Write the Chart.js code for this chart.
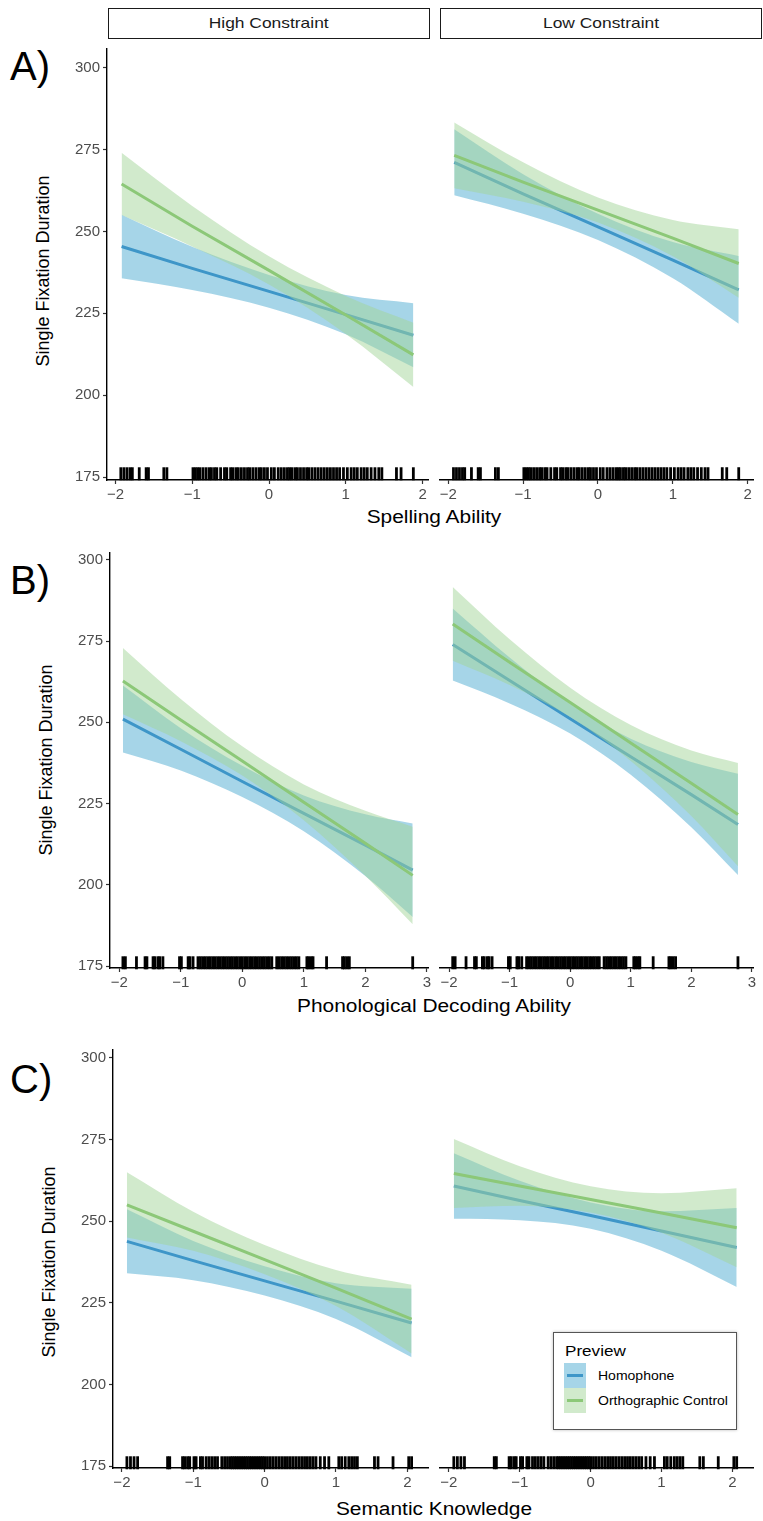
<!DOCTYPE html>
<html>
<head>
<meta charset="utf-8">
<script src="https://cdn.jsdelivr.net/npm/chart.js@4.4.1/dist/chart.umd.min.js"></script>
<style>
body { margin: 0; background: #fff; font-family: "Liberation Sans", Arial, sans-serif; }
#fig { position: relative; width: 763px; height: 1521px; overflow: hidden; }
.box { position: absolute; }
.strip { position: absolute; top: 8px; height: 31px; box-sizing: border-box; border: 1.5px solid #1a1a1a;
         font-size: 15px; line-height: 28px; text-align: center; color: #1a1a1a; }
.strip span { display: inline-block; transform: scaleX(1.16); }
.tag { position: absolute; left: 10px; font-family: "Liberation Sans Narrow", "Liberation Sans", sans-serif;
       font-size: 40px; line-height: 40px; color: #000; }
.ytitle { position: absolute; font-size: 18px; white-space: nowrap; color: #000;
          transform: translate(-50%, -50%) rotate(-90deg); }
.xtitle { position: absolute; font-size: 18px; white-space: nowrap; color: #000;
          transform: translate(-50%, -50%) scaleX(1.16); }
#legend { position: absolute; left: 553px; top: 1332px; width: 184px; height: 98px; box-sizing: border-box;
          border: 1.5px solid #555; box-shadow: 0 0 3px #bbb; background: #fff; }
#legend .ttl { font-size: 15px; margin: 9px 0 4px 11px; transform: scaleX(1.14); transform-origin: left; }
#legend .row { display: flex; align-items: center; height: 25px; margin-left: 10px; font-size: 12.5px; }
#legend .row span { display: inline-block; transform: scaleX(1.12); transform-origin: left; }
#legend .key { width: 22px; height: 25px; position: relative; margin-right: 12px; }
#legend .key i { position: absolute; left: 3px; right: 3px; top: 11px; height: 3px; }
</style>
</head>
<body>
<div id="fig">
  <div class="strip" style="left:108px;width:322px"><span>High Constraint</span></div>
  <div class="strip" style="left:440px;width:322px"><span>Low Constraint</span></div>
  <div class="tag" style="top:46px">A)</div>
  <div class="tag" style="top:560px">B)</div>
  <div class="tag" style="top:1059px">C)</div>
  <div class="ytitle" style="left:43px;top:271px">Single Fixation Duration</div>
  <div class="ytitle" style="left:46px;top:760px">Single Fixation Duration</div>
  <div class="ytitle" style="left:49px;top:1262px">Single Fixation Duration</div>
  <div class="xtitle" style="left:434px;top:517px">Spelling Ability</div>
  <div class="xtitle" style="left:434px;top:1006px">Phonological Decoding Ability</div>
  <div class="xtitle" style="left:434px;top:1509px">Semantic Knowledge</div>
  <div id="legend"></div>
</div>
<script>
// ticks
const yTicks = [175, 200, 225, 250, 275, 300];
const xTicksA = [-2, -1, 0, 1, 2];
const xTicksB = [-2, -1, 0, 1, 2, 3];
const xTicksC = [-2, -1, 0, 1, 2];

const seriesNames = ['Homophone', 'Orthographic Control'];

// A) spelling ability
const xA = [-1.92, -1, 0, 1, 1.88];
const homA_hi = [245.4, 238.7, 231.7, 224.6, 218.3];
const homA_hi_lo = [235.7, 232.1, 226.7, 218.6, 208.5];
const homA_hi_up = [255.1, 245.3, 236.7, 230.6, 228.1];
const orthA_hi = [264.5, 251.6, 238.1, 224.5, 212.3];
const orthA_hi_lo = [255.0, 245.4, 233.8, 218.7, 202.5];
const orthA_hi_up = [274.0, 257.8, 242.4, 230.3, 222.1];
const homA_lo = [270.5, 260.9, 250.9, 240.8, 231.8];
const homA_lo_lo = [260.5, 254.9, 246.9, 235.3, 221.5];
const homA_lo_up = [280.5, 266.9, 254.9, 246.3, 242.1];
const orthA_lo = [272.6, 264.5, 256.0, 247.5, 239.8];
const orthA_lo_lo = [262.6, 258.5, 252.2, 242.0, 229.4];
const orthA_lo_up = [282.6, 270.5, 259.8, 253.0, 250.2];
const rugA = [-1.93, -1.89, -1.85, -1.81, -1.78, -1.69, -1.6, -1.57, -1.37, -1.33, -0.99, -0.96, -0.93, -0.9,
  -0.86, -0.82, -0.78, -0.75, -0.71, -0.68, -0.63, -0.58, -0.55, -0.5, -0.47, -0.43, -0.4, -0.36, -0.32, -0.28,
  -0.25, -0.21, -0.17, -0.13, -0.1, -0.06, -0.02, 0.03, 0.07, 0.12, 0.16, 0.2, 0.24, 0.27, 0.3, 0.34, 0.37, 0.41,
  0.45, 0.49, 0.52, 0.56, 0.6, 0.64, 0.68, 0.72, 0.76, 0.8, 0.84, 0.88, 0.92, 0.97, 1.02, 1.07, 1.11, 1.15, 1.2,
  1.24, 1.28, 1.33, 1.38, 1.43, 1.47, 1.66, 1.72, 1.88];

// B) phonological decoding ability
const xB = [-1.94, -1, 0, 1, 2, 2.77];
const homB_hi = [251.0, 241.7, 231.8, 222.0, 212.2, 204.5];
const homB_hi_lo = [240.7, 235.2, 227.0, 216.5, 202.7, 190.1];
const homB_hi_up = [261.3, 248.2, 236.6, 227.5, 221.7, 218.9];
const orthB_hi = [262.7, 250.7, 238.1, 225.4, 212.8, 202.9];
const orthB_hi_lo = [252.5, 244.2, 233.6, 219.9, 202.8, 187.9];
const orthB_hi_up = [272.9, 257.2, 242.6, 230.9, 222.8, 217.9];
const homB_lo = [273.3, 262.3, 250.6, 239.0, 227.4, 218.3];
const homB_lo_lo = [262.3, 255.3, 246.1, 233.5, 217.4, 202.8];
const homB_lo_up = [284.3, 269.3, 255.1, 244.5, 237.4, 233.8];
const orthB_lo = [279.6, 267.9, 255.6, 243.2, 230.9, 221.3];
const orthB_lo_lo = [268.3, 260.9, 251.1, 237.7, 220.9, 205.5];
const orthB_lo_up = [290.9, 274.9, 260.1, 248.7, 240.9, 237.1];
const rugB = [-1.94, -1.9, -1.72, -1.58, -1.55, -1.45, -1.42, -1.37, -1.34, -1.29, -1.02, -0.99, -0.88, -0.85,
  -0.8, -0.72, -0.68, -0.64, -0.6, -0.56, -0.52, -0.48, -0.44, -0.4, -0.36, -0.32, -0.28, -0.24, -0.2, -0.16,
  -0.12, -0.08, -0.04, 0.0, 0.04, 0.08, 0.12, 0.16, 0.2, 0.24, 0.28, 0.32, 0.36, 0.4, 0.44, 0.48, 0.56, 0.6, 0.64,
  0.68, 0.72, 0.76, 0.8, 0.84, 0.88, 0.92, 1.05, 1.08, 1.12, 1.15, 1.37, 1.63, 1.66, 1.7, 1.74, 2.77];

// C) semantic knowledge
const xC = [-1.93, -1, 0, 1, 2.06];
const homC_hi = [243.8, 237.9, 231.7, 225.5, 218.8];
const homC_hi_lo = [234.0, 231.9, 227.2, 220.0, 208.3];
const homC_hi_up = [253.6, 243.9, 236.2, 231.0, 229.3];
const orthC_hi = [255.0, 246.9, 238.2, 229.5, 220.0];
const orthC_hi_lo = [245.0, 240.9, 233.7, 224.0, 209.5];
const orthC_hi_up = [265.0, 252.9, 242.7, 235.0, 230.5];
const homC_lo = [260.2, 255.8, 251.2, 246.5, 241.5];
const homC_lo_lo = [250.2, 249.8, 247.2, 240.5, 229.5];
const homC_lo_up = [270.2, 261.8, 255.2, 252.5, 253.5];
const orthC_lo = [264.0, 260.2, 256.1, 252.0, 247.5];
const orthC_lo_lo = [253.5, 254.2, 252.1, 246.0, 235.5];
const orthC_lo_up = [274.5, 266.2, 260.1, 258.0, 259.5];
const rugC = [-1.93, -1.88, -1.83, -1.78, -1.36, -1.33, -1.15, -1.12, -1.08, -1.05, -0.99, -0.96, -0.9, -0.87,
  -0.82, -0.78, -0.74, -0.7, -0.66, -0.6, -0.56, -0.52, -0.48, -0.45, -0.42, -0.39, -0.36, -0.33, -0.3, -0.27,
  -0.24, -0.21, -0.18, -0.15, -0.12, -0.09, -0.06, -0.03, 0.0, 0.04, 0.08, 0.12, 0.16, 0.2, 0.24, 0.28, 0.32,
  0.36, 0.4, 0.44, 0.48, 0.52, 0.56, 0.6, 0.64, 0.68, 0.72, 0.78, 0.84, 0.9, 1.04, 1.08, 1.13, 1.18, 1.22, 1.26,
  1.3, 1.54, 1.59, 1.8, 2.02, 2.06];

// colours
const BLUE = '#3e96c8';
const GREEN = '#8cc878';
const BLUE_FILL = 'rgba(77,171,209,0.5)';
const GREEN_FILL = 'rgba(163,213,153,0.5)';
const RUG_Y = 176;

Chart.defaults.font.family = "'Liberation Sans', Arial, sans-serif";
Chart.defaults.font.size = 15;
Chart.defaults.color = '#4d4d4d';

const fig = document.getElementById('fig');

function pts(xs, ys) {
  return xs.map((x, i) => ({ x: x, y: ys[i] }));
}

function ribbon(xs, up, lo, color, order) {
  return [
    { data: pts(xs, up), fill: '+1', backgroundColor: color, borderColor: 'rgba(0,0,0,0)', borderWidth: 0,
      pointRadius: 0, cubicInterpolationMode: 'monotone', order: order },
    { data: pts(xs, lo), fill: false, borderColor: 'rgba(0,0,0,0)', borderWidth: 0,
      pointRadius: 0, cubicInterpolationMode: 'monotone', order: order }
  ];
}

function minus(v) {
  return v < 0 ? '\u2212' + Math.abs(v) : String(v);
}

function makePanel(p) {
  const axisW = p.yAxis ? 60 : 0;
  const padL = p.yAxis ? 0 : 10;
  const padR = p.yAxis ? 8 : 2;
  const wrap = document.createElement('div');
  wrap.className = 'box';
  wrap.style.left = (p.left - axisW - padL) + 'px';
  wrap.style.top = (p.top - 2) + 'px';
  wrap.style.width = (p.right - p.left + axisW + padL + padR) + 'px';
  wrap.style.height = (p.bottom - p.top + 2 + 30) + 'px';
  const cv = document.createElement('canvas');
  wrap.appendChild(cv);
  fig.appendChild(wrap);

  const datasets = [].concat(
    ribbon(p.xs, p.homUp, p.homLo, BLUE_FILL, 6),
    [{ label: seriesNames[0], data: pts(p.xs, p.hom), borderColor: BLUE, borderWidth: 3, pointRadius: 0, fill: false, order: 5 }],
    ribbon(p.xs, p.orthUp, p.orthLo, GREEN_FILL, 4),
    [{ label: seriesNames[1], data: pts(p.xs, p.orth), borderColor: GREEN, borderWidth: 3, pointRadius: 0, fill: false, order: 3 }],
    [{ data: p.rug.map(x => ({ x: x, y: RUG_Y })), showLine: false, pointStyle: 'line', rotation: 90,
       pointRadius: 6.5, pointBorderWidth: 2.8, pointBorderColor: '#000', pointBackgroundColor: '#000',
       clip: false, order: 1 }]
  );

  new Chart(cv, {
    type: 'line',
    data: { datasets: datasets },
    options: {
      responsive: true,
      maintainAspectRatio: false,
      animation: false,
      events: [],
      layout: { padding: { left: padL, right: padR, top: 2, bottom: 0 } },
      plugins: { legend: { display: false }, tooltip: { enabled: false } },
      scales: {
        x: {
          type: 'linear', min: p.xr[0], max: p.xr[1],
          afterBuildTicks: s => { s.ticks = p.xt.map(v => ({ value: v })); },
          afterFit: s => { s.height = 30; },
          grid: { display: true, drawOnChartArea: false, drawTicks: true, tickLength: 4, tickColor: '#333', tickWidth: 1.2 },
          border: { display: true, color: '#000', width: 1.4 },
          ticks: { padding: 2, color: '#4d4d4d', maxRotation: 0, callback: v => minus(v) }
        },
        y: {
          type: 'linear', min: p.yr[0], max: p.yr[1], display: p.yAxis,
          afterBuildTicks: s => { s.ticks = yTicks.map(v => ({ value: v })); },
          afterFit: s => { s.width = axisW; },
          grid: { display: true, drawOnChartArea: false, drawTicks: true, tickLength: 4, tickColor: '#333', tickWidth: 1.2 },
          border: { display: true, color: '#000', width: 1.4 },
          ticks: { padding: 3, color: '#4d4d4d' }
        }
      }
    }
  });
}

// row A
makePanel({ left: 107, right: 430, top: 39, bottom: 480, yAxis: true, xs: xA, xt: xTicksA,
  xr: [-2.11, 2.08], yr: [174.1, 305.7], rug: rugA,
  hom: homA_hi, homLo: homA_hi_lo, homUp: homA_hi_up, orth: orthA_hi, orthLo: orthA_hi_lo, orthUp: orthA_hi_up });
makePanel({ left: 440, right: 761, top: 39, bottom: 480, yAxis: false, xs: xA, xt: xTicksA,
  xr: [-2.11, 2.08], yr: [174.1, 305.7], rug: rugA,
  hom: homA_lo, homLo: homA_lo_lo, homUp: homA_lo_up, orth: orthA_lo, orthLo: orthA_lo_lo, orthUp: orthA_lo_up });
// row B
makePanel({ left: 110, right: 430, top: 543, bottom: 968, yAxis: true, xs: xB, xt: xTicksB,
  xr: [-2.15, 3.03], yr: [174.4, 302.1], rug: rugB,
  hom: homB_hi, homLo: homB_hi_lo, homUp: homB_hi_up, orth: orthB_hi, orthLo: orthB_hi_lo, orthUp: orthB_hi_up });
makePanel({ left: 440, right: 761, top: 543, bottom: 968, yAxis: false, xs: xB, xt: xTicksB,
  xr: [-2.15, 3.03], yr: [174.4, 302.1], rug: rugB,
  hom: homB_lo, homLo: homB_lo_lo, homUp: homB_lo_up, orth: orthB_lo, orthLo: orthB_lo_lo, orthUp: orthB_lo_up });
// row C
makePanel({ left: 113, right: 430, top: 1040, bottom: 1468, yAxis: true, xs: xC, xt: xTicksC,
  xr: [-2.125, 2.3], yr: [174.4, 302.4], rug: rugC,
  hom: homC_hi, homLo: homC_hi_lo, homUp: homC_hi_up, orth: orthC_hi, orthLo: orthC_hi_lo, orthUp: orthC_hi_up });
makePanel({ left: 440, right: 761, top: 1040, bottom: 1468, yAxis: false, xs: xC, xt: xTicksC,
  xr: [-2.125, 2.3], yr: [174.4, 302.4], rug: rugC,
  hom: homC_lo, homLo: homC_lo_lo, homUp: homC_lo_up, orth: orthC_lo, orthLo: orthC_lo_lo, orthUp: orthC_lo_up });

// legend
const legend = document.getElementById('legend');
legend.innerHTML = '<div class="ttl">Preview</div>' +
  [[BLUE, 'rgb(166,213,232)'], [GREEN, 'rgb(209,234,204)']].map((c, i) =>
    '<div class="row"><div class="key" style="background:' + c[1] + '"><i style="background:' + c[0] +
    '"></i></div><span>' + seriesNames[i] + '</span></div>').join('');
</script>
</body>
</html>
